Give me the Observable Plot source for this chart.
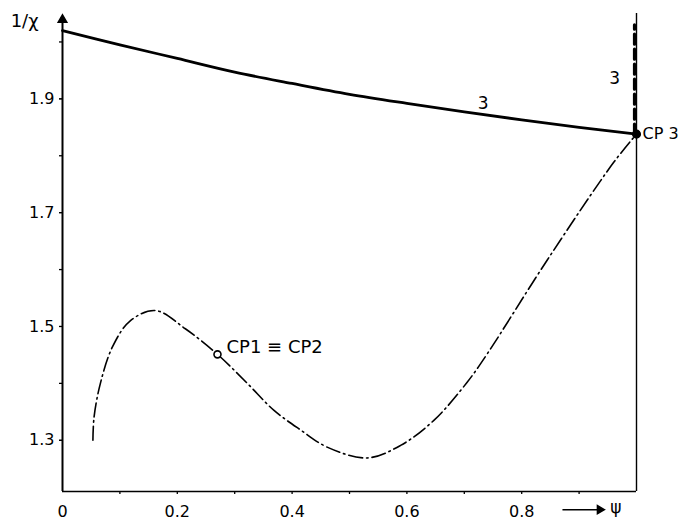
<!DOCTYPE html>
<html>
<head>
<meta charset="utf-8">
<script src="https://cdn.jsdelivr.net/npm/d3@7"></script>
<script src="https://cdn.jsdelivr.net/npm/@observablehq/plot@0.6"></script>
<style>
  html, body { margin: 0; padding: 0; background: #fff; }
  #chart { width: 680px; height: 521px; }
</style>
</head>
<body>
<div id="chart"></div>
<script>
// Curve 3 (solid): psi vs 1/chi
const curve3Psi = [0, 0.1, 0.2, 0.3, 0.4, 0.5, 0.6, 0.7, 0.8, 0.9, 1.0];
const curve3Val = [2.020, 1.995, 1.971, 1.947, 1.927, 1.908, 1.892, 1.877, 1.863, 1.850, 1.838];

// Dash-dot critical curve
const critPsi = [0.053, 0.055, 0.066, 0.087, 0.118, 0.162, 0.214, 0.270, 0.322, 0.368, 0.415, 0.461, 0.531, 0.589, 0.647, 0.705, 0.740, 0.844, 0.960, 1.0];
const critVal = [1.300, 1.341, 1.400, 1.464, 1.510, 1.528, 1.496, 1.451, 1.400, 1.353, 1.318, 1.288, 1.269, 1.291, 1.335, 1.402, 1.452, 1.616, 1.788, 1.838];

// Vertical branch of curve 3 at psi = 1
const vertPsi = [1.0, 1.0];
const vertVal = [1.838, 2.03];

// Critical points
const cpNames = ["CP1 ≡ CP2", "CP 3"];
const cpPsi = [0.270, 1.0];
const cpVal = [1.451, 1.838];

// Axis ticks
const xLabelTicks = [0, 0.2, 0.4, 0.6, 0.8];
const xMinorTicks = [0.1, 0.2, 0.3, 0.4, 0.5, 0.6, 0.7, 0.8, 0.9];
const yLabelTicks = [1.3, 1.5, 1.7, 1.9];
const yMinorTicks = [1.3, 1.4, 1.5, 1.6, 1.7, 1.8, 1.9, 2.0];

const yMin = 1.21, yMax = 2.05;

const curve3 = curve3Psi.map((p, i) => ({psi: p, v: curve3Val[i]}));
const crit = critPsi.map((p, i) => ({psi: p, v: critVal[i]}));
const vert = vertPsi.map((p, i) => ({psi: p, v: vertVal[i]}));
const cps = cpNames.map((n, i) => ({name: n, psi: cpPsi[i], v: cpVal[i]}));

const font = "'DejaVu Sans', 'Liberation Sans', sans-serif";

const plot = Plot.plot({
  width: 680,
  height: 521,
  marginLeft: 62,
  marginRight: 44,
  marginTop: 13,
  marginBottom: 30,
  x: {domain: [0, 1]},
  y: {domain: [yMin, yMax]},
  style: {fontFamily: font, fontSize: "16px", color: "#000", background: "#fff"},
  marks: [
    // axis ticks
    Plot.axisX({ticks: xMinorTicks, tickSize: 3, text: null, label: null, strokeWidth: 1.3}),
    Plot.axisX({ticks: xLabelTicks, tickSize: 0, tickPadding: 14, label: null,
      tickFormat: d => d === 0 ? "0" : d3.format(".1f")(d)}),
    Plot.axisY({ticks: yMinorTicks, tickSize: 3, text: null, label: null, strokeWidth: 1.3}),
    Plot.axisY({ticks: yLabelTicks, tickSize: 3, tickPadding: 5, label: null,
      tickFormat: d3.format(".1f")}),
    // frame lines
    Plot.ruleX([0], {y1: yMin, y2: 2.035, stroke: "#000", strokeWidth: 2}),
    Plot.ruleY([yMin], {x1: 0, x2: 1, stroke: "#000", strokeWidth: 1.6}),
    Plot.ruleX([1], {y1: yMin, y2: 2.05, stroke: "#000", strokeWidth: 1.4}),
    // y-axis arrow head
    Plot.dot([{psi: 0, v: 2.039}], {x: "psi", y: "v", symbol: "triangle", r: 3.2, fill: "#000", stroke: "#000"}),
    // curve 3
    Plot.line(curve3, {x: "psi", y: "v", curve: "catmull-rom", stroke: "#000", strokeWidth: 2.8}),
    // vertical dashed branch of 3
    Plot.line(vert, {x: "psi", y: "v", stroke: "#000", strokeWidth: 3.2, strokeDasharray: "10,5", dx: -2}),
    // critical dash-dot curve
    Plot.line(crit, {x: "psi", y: "v", curve: "catmull-rom", stroke: "#000", strokeWidth: 1.6,
      strokeDasharray: "14,4,1.5,4"}),
    // critical points
    Plot.dot([cps[0]], {x: "psi", y: "v", r: 3.5, fill: "#fff", stroke: "#000", strokeWidth: 1.6}),
    Plot.dot([cps[1]], {x: "psi", y: "v", r: 3.8, fill: "#000", stroke: "#000"}),
    Plot.text([cps[0]], {x: "psi", y: "v", text: "name", textAnchor: "start", dx: 9, dy: -7,
      fontSize: 18, fill: "#000"}),
    Plot.text([cps[1]], {x: "psi", y: "v", text: "name", textAnchor: "start", dx: 6, dy: 0,
      fontSize: 16, fill: "#000"}),
    // curve labels "3"
    Plot.text([{psi: 0.733, v: 1.892}], {x: "psi", y: "v", text: () => "3", fontSize: 17, fill: "#000"}),
    Plot.text([{psi: 0.962, v: 1.936}], {x: "psi", y: "v", text: () => "3", fontSize: 17, fill: "#000"}),
    // axis titles
    Plot.text([{psi: -0.066, v: 2.037}], {x: "psi", y: "v", text: () => "1/χ", fontSize: 18, fill: "#000"}),
    Plot.link([{x1: 0.871, x2: 0.933, y: 1.178}], {x1: "x1", x2: "x2", y1: "y", y2: "y", stroke: "#000", strokeWidth: 1.5}),
    Plot.dot([{psi: 0.936, v: 1.178}], {x: "psi", y: "v", symbol: "triangle", rotate: 90, r: 3, fill: "#000", stroke: "#000"}),
    Plot.text([{psi: 0.964, v: 1.181}], {x: "psi", y: "v", text: () => "ψ", fontSize: 17, fill: "#000"})
  ]
});

// enlarge axis tick labels to match the reference
d3.select(plot).selectAll("g[aria-label$='tick label'] text, g[aria-label$='tick label']")
  .style("font-size", "16px");

document.getElementById("chart").appendChild(plot);
</script>
</body>
</html>
